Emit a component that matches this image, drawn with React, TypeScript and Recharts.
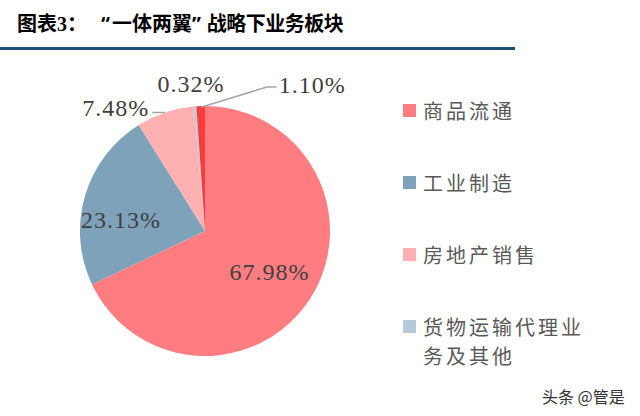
import { PieChart, Pie, Cell } from 'recharts';

const names = ['商品流通', '工业制造', '房地产销售', '货物运输代理业务及其他', ''];
const shares = [67.98, 23.13, 7.48, 0.32, 1.1];
const colors = ['#FF7C80', '#7FA2BB', '#FFB1B2', '#B5CAD9', '#FF3B3B'];
const legendNames = ['商品流通', '工业制造', '房地产销售', '货物运输代理业务及其他'];

const data = shares.map((v, i) => ({ name: names[i], value: v }));

const RAD = Math.PI / 180;
const labelFont = { fontFamily: '"Liberation Serif", "DejaVu Serif", serif', fontSize: 24, fill: '#404040', letterSpacing: 1 };
const leader = '#A6A6A6';

const renderLabel = (p: any) => {
    const { cx, cy, midAngle, outerRadius, index } = p;
    const cos = Math.cos(-midAngle * RAD);
    const sin = Math.sin(-midAngle * RAD);
    const txt = shares[index].toFixed(2) + '%';
    const sx = cx + outerRadius * cos;
    const sy = cy + outerRadius * sin;

    if (index === 0 || index === 1) {
        const r = outerRadius * (index === 0 ? 0.61 : 0.7);
        return (
            <text x={cx + r * cos} y={cy + r * sin + (index === 1 ? 14 : 0)} textAnchor="middle" dominantBaseline="central" {...labelFont}>
                {txt}
            </text>
        );
    }
    if (index === 2) {
        return (
            <g>
                <line x1={sx} y1={sy} x2={sx - 13} y2={sy} stroke={leader} strokeWidth={1.5} />
                <text x={sx - 16} y={sy - 5} textAnchor="end" dominantBaseline="central" {...labelFont}>{txt}</text>
            </g>
        );
    }
    if (index === 3) {
        return (
            <text x={sx - 4} y={sy - 22} textAnchor="middle" dominantBaseline="central" {...labelFont}>{txt}</text>
        );
    }
    return (
        <g>
            <polyline
                points={`${sx + 1},${sy + 1} ${sx + 66},${sy - 19} ${sx + 76},${sy - 19}`}
                fill="none"
                stroke={leader}
                strokeWidth={1.5}
            />
            <text x={sx + 78} y={sy - 21} textAnchor="start" dominantBaseline="central" {...labelFont}>{txt}</text>
        </g>
    );
};

const legendRows = [110, 182, 254, 326];

const titleStyle = {
    position: 'absolute' as const,
    top: 10,
    fontFamily: '"Noto Sans CJK SC", sans-serif',
    fontWeight: 700,
    fontSize: 20,
    lineHeight: '26px',
    color: '#000',
    whiteSpace: 'nowrap' as const,
};

const quoteStyle = { fontFamily: '"Noto Sans", sans-serif' };

export default function App() {
    return (
        <div style={{ position: 'absolute', left: 0, top: 0, width: 640, height: 416, background: '#fff', overflow: 'hidden' }}>
            {/* title */}
            <div style={{ ...titleStyle, left: 17 }}>
                图表<span style={{ fontFamily: '"Liberation Serif", serif' }}>3</span>：
            </div>
            <div style={{ ...titleStyle, left: 101 }}>
                <span style={{ ...quoteStyle, letterSpacing: 2 }}>“</span>一体两翼<span style={{ ...quoteStyle, letterSpacing: 6 }}>”</span>
                <span style={{ letterSpacing: -0.5 }}>战略下业务板块</span>
            </div>
            <div style={{ position: 'absolute', left: 0, top: 47, width: 515, height: 3, background: '#1F4E79' }} />

            <div style={{ position: 'absolute', left: 0, top: 0 }}>
                <PieChart width={640} height={416} margin={{ top: 0, right: 0, bottom: 0, left: 0 }}>
                    <Pie
                        data={data}
                        dataKey="value"
                        cx={205}
                        cy={231}
                        outerRadius={125}
                        startAngle={90}
                        endAngle={-270}
                        stroke="none"
                        label={renderLabel}
                        labelLine={false}
                        isAnimationActive={false}
                    >
                        {data.map((d, i) => (
                            <Cell key={`cell-${i}`} fill={colors[i]} />
                        ))}
                    </Pie>
                </PieChart>
            </div>

            {/* legend */}
            {legendNames.map((n, i) => (
                <div key={n} style={{ position: 'absolute', left: 403, top: legendRows[i] - 14, display: 'flex', alignItems: 'flex-start' }}>
                    <div style={{ width: 13, height: 13, background: colors[i], marginTop: 8, marginRight: 7 }} />
                    <div style={{ width: 170, fontFamily: '"Noto Sans CJK SC", sans-serif', fontSize: 20, letterSpacing: 3, lineHeight: '29px', color: '#595959' }}>
                        {n}
                    </div>
                </div>
            ))}

            <div style={{ position: 'absolute', left: 542, top: 386, fontFamily: '"Noto Sans CJK SC", sans-serif', fontSize: 16, lineHeight: '20px', color: '#333', whiteSpace: 'nowrap' }}>
                头条 @管是
            </div>
        </div>
    );
}
